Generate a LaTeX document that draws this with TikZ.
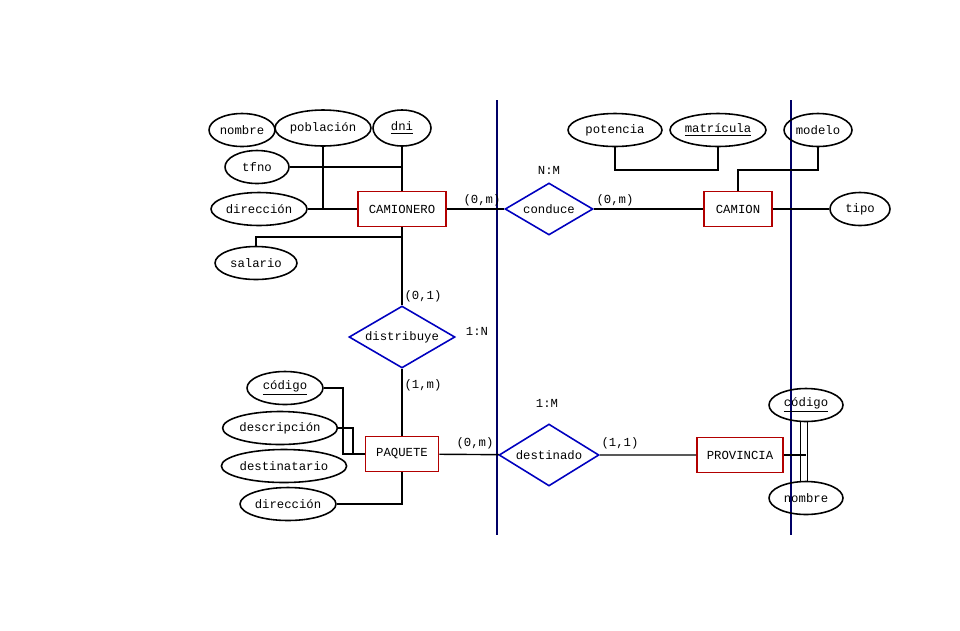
\documentclass[tikz,border=0pt]{standalone}
\usepackage{fontspec}
\setmainfont{Liberation Mono}
\usetikzlibrary{shapes.geometric,positioning}
\tikzset{
  ent/.style={draw=red!70!black,line width=0.9pt,minimum width=17.6mm,minimum height=7mm,inner sep=0pt},
  rel/.style={diamond,draw=blue!75!black,line width=0.9pt,aspect=1.7,inner sep=0pt},
  att/.style={ellipse,draw,line width=0.9pt,minimum height=6.6mm,inner sep=0pt},
  lab/.style={inner sep=0pt},
}
\begin{document}
\begin{tikzpicture}[x=0.02cm,y=-0.02cm,font=\fontsize{7}{8}\selectfont,line width=0.8pt]
		\useasboundingbox (0,0) rectangle (960,630);
		% guias verticales
		\draw[blue!40!black] (497,100) -- (497,535);
		\draw[blue!40!black] (791,100) -- (791,535);

		% entidades
		\node[ent] (camionero) at (402,209) {CAMIONERO};
		\node[ent,minimum width=13.6mm] (camion) at (738,209) {CAMION};
		\node[ent,minimum width=14.6mm] (paquete) at (402,454) {PAQUETE};
		\node[ent,minimum width=17.2mm] (provincia) at (740,455) {PROVINCIA};

		% relaciones
		\node[rel,minimum width=17.6mm,minimum height=10.4mm] (conduce) at (549,209) {conduce};
		\node[rel,minimum width=21.2mm,minimum height=12.4mm] (distribuye) at (402,337) {distribuye};
		\node[rel,minimum width=20mm,minimum height=12.4mm] (destinado) at (549,455) {destinado};

		% atributos camionero
		\node[att,minimum width=13.2mm] (nombre) at (242,130) {nombre};
		\node[att,minimum width=19.2mm,minimum height=7.2mm] (poblacion) at (323,128) {población};
		\node[att,minimum width=11.6mm,minimum height=7.2mm] (dni) at (402,128) {\underline{dni}};
		\node[att,minimum width=12.8mm] (tfno) at (257,167) {tfno};
		\node[att,minimum width=19.2mm] (direccion) at (259,209) {dirección};
		\node[att,minimum width=16.4mm] (salario) at (256,263) {salario};

		% atributos camion
		\node[att,minimum width=18.8mm] (potencia) at (615,130) {potencia};
		\node[att,minimum width=19.2mm] (matricula) at (718,130) {\underline{matrícula}};
		\node[att,minimum width=13.6mm] (modelo) at (818,130) {modelo};
		\node[att,minimum width=12mm] (tipo) at (860,209) {tipo};

		% atributos paquete
		\node[att,minimum width=15.2mm] (codigo) at (285,388) {\underline{código}};
		\node[att,minimum width=20mm] (descripcion) at (280,428) {descripción};
		\node[att,minimum width=20.8mm] (destinatario) at (284,466) {destinatario};
		\node[att,minimum width=19.2mm] (direccionp) at (288,504) {dirección};

		% atributos provincia
		\node[att,minimum width=14.8mm] (codigop) at (806,405) {\underline{código}};
		\node[att,minimum width=14.8mm] (nombrep) at (806,498) {nombre};

		% cardinalidades
		\node[lab] at (549,170) {N:M};
		\node[lab] at (482,200) {(0,m)};
		\node[lab] at (615,200) {(0,m)};
		\node[lab] at (423,296) {(0,1)};
		\node[lab] at (477,331) {1:N};
		\node[lab] at (423,385) {(1,m)};
		\node[lab] at (547,403) {1:M};
		\node[lab] at (475,443) {(0,m)};
		\node[lab] at (620,443) {(1,1)};

		% conexiones
		\draw (camionero) -- (conduce) -- (camion);
		\draw (camionero) -- (distribuye) -- (paquete);
		\draw (paquete) -- (destinado) -- (provincia);

		\draw (dni) -- (camionero);
		\draw (tfno) -- (tfno -| camionero);
		\draw (poblacion) -- (poblacion |- direccion);
		\draw (direccion) -- (camionero);
		\draw (salario) |- (402,237);

		\draw (potencia) |- (matricula.south |- 0,170) -- (matricula);
		\draw (modelo) |- (camion.north |- 0,170) -- (camion);
		\draw (camion) -- (tipo);

		\draw (codigo) -| (343,454) -- (paquete);
		\draw (descripcion) -| (353,454);
		\draw (direccionp) -| (paquete);

		\draw (provincia) -- (provincia.east -| codigop);
		\draw ([xshift=-3pt]codigop.south) -- ([xshift=-3pt]nombrep.north);
		\draw ([xshift=1pt]codigop.south) -- ([xshift=1pt]nombrep.north);
\end{tikzpicture}
\end{document}
